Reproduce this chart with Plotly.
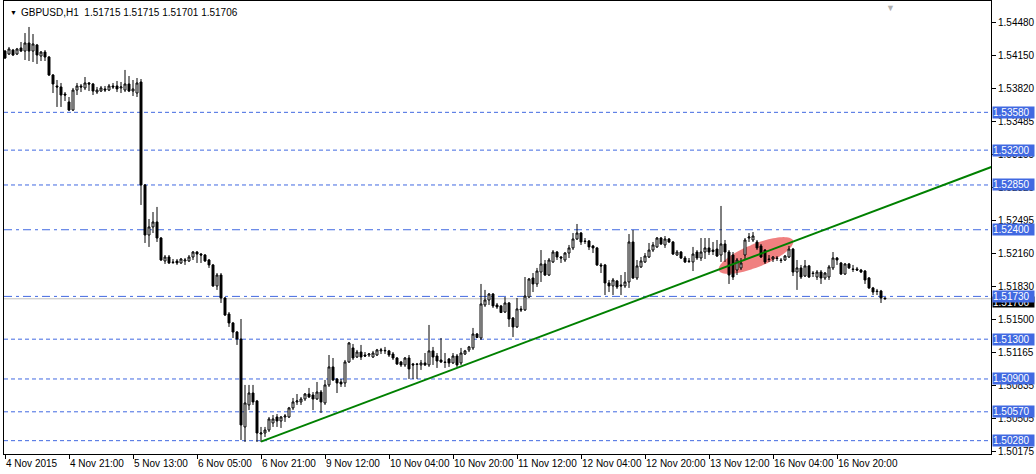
import numpy as np
import plotly.graph_objects as go

# ---------------- data (GBPUSD H1) ----------------
title_text = "GBPUSD,H1  1.51715 1.51715 1.51701 1.51706"

open_ = [
    1.54196, 1.54166, 1.54206, 1.54166, 1.54227, 1.54196, 1.54277, 1.54196, 1.54257, 1.54146,
    1.54186, 1.54136, 1.53955, 1.53845, 1.53835, 1.53764, 1.53684, 1.53603, 1.53804, 1.53845,
    1.53825, 1.53875, 1.53865, 1.53784, 1.53794, 1.53815, 1.53804, 1.53845, 1.53845, 1.53825,
    1.53804, 1.53865, 1.53794, 1.53774, 1.53885, 1.52850, 1.52347, 1.52428, 1.52478, 1.52317,
    1.52086, 1.52126, 1.52076, 1.52086, 1.52066, 1.52086, 1.52086, 1.52126, 1.52176, 1.52156,
    1.52146, 1.52096, 1.52046, 1.51835, 1.51945, 1.51714, 1.51553, 1.51463, 1.51372, 1.51302,
    1.50418, 1.50639, 1.50759, 1.50679, 1.50347, 1.50357, 1.50387, 1.50458, 1.50518, 1.50478,
    1.50518, 1.50518, 1.50609, 1.50669, 1.50669, 1.50699, 1.50749, 1.50739, 1.50699, 1.50769,
    1.50659, 1.50840, 1.51021, 1.50900, 1.50870, 1.50860, 1.51071, 1.51212, 1.51121, 1.51171,
    1.51141, 1.51141, 1.51121, 1.51141, 1.51182, 1.51182, 1.51182, 1.51151, 1.51111, 1.51071,
    1.51041, 1.51111, 1.51051, 1.51051, 1.51041, 1.51061, 1.51041, 1.51182, 1.51131, 1.51091,
    1.51071, 1.51101, 1.51061, 1.51131, 1.51061, 1.51151, 1.51192, 1.51212, 1.51352, 1.51312,
    1.51644, 1.51694, 1.51754, 1.51644, 1.51634, 1.51573, 1.51664, 1.51513, 1.51423, 1.51604,
    1.51594, 1.51724, 1.51915, 1.51855, 1.51975, 1.52056, 1.51945, 1.52076, 1.52176, 1.52126,
    1.52096, 1.52166, 1.52217, 1.52307, 1.52367, 1.52287, 1.52287, 1.52237, 1.52217, 1.52046,
    1.52046, 1.51865, 1.51835, 1.51885, 1.51845, 1.51835, 1.51875, 1.52277, 1.51915, 1.52026,
    1.52076, 1.52126, 1.52196, 1.52227, 1.52317, 1.52247, 1.52307, 1.52277, 1.52146, 1.52176,
    1.52116, 1.52086, 1.52076, 1.52176, 1.52116, 1.52176, 1.52217, 1.52196, 1.52206, 1.52146,
    1.52257, 1.52176, 1.52146, 1.51995, 1.52016, 1.52146, 1.52317, 1.52297, 1.52277, 1.52237,
    1.52196, 1.52106, 1.52106, 1.52116, 1.52096, 1.52096, 1.52126, 1.52206, 1.51975, 1.52016,
    1.51935, 1.52036, 1.51965, 1.51925, 1.51975, 1.51915, 1.51925, 1.52016, 1.52116, 1.52066,
    1.51955, 1.52056, 1.52006, 1.52006, 1.51995, 1.51985, 1.51915, 1.51815, 1.51784, 1.51784,
    1.51715,
]
high = [
    1.54206, 1.54237, 1.54217, 1.54227, 1.54287, 1.54377, 1.54438, 1.54367, 1.54267, 1.54196,
    1.54206, 1.54146, 1.53965, 1.53905, 1.53875, 1.53784, 1.53734, 1.53825, 1.53875, 1.53865,
    1.53935, 1.53885, 1.53875, 1.53835, 1.53845, 1.53845, 1.53865, 1.53875, 1.53895, 1.53885,
    1.54006, 1.53945, 1.53905, 1.53925, 1.53915, 1.52860, 1.52508, 1.52578, 1.52629, 1.52327,
    1.52146, 1.52146, 1.52106, 1.52106, 1.52116, 1.52116, 1.52146, 1.52186, 1.52186, 1.52166,
    1.52156, 1.52106, 1.52056, 1.51965, 1.51965, 1.51724, 1.51573, 1.51473, 1.51382, 1.51503,
    1.50840, 1.50840, 1.50840, 1.50689, 1.50418, 1.50418, 1.50518, 1.50538, 1.50548, 1.50528,
    1.50548, 1.50619, 1.50709, 1.50749, 1.50719, 1.50759, 1.50810, 1.50769, 1.50870, 1.50789,
    1.50890, 1.51141, 1.51111, 1.50910, 1.50900, 1.51091, 1.51272, 1.51252, 1.51192, 1.51242,
    1.51171, 1.51161, 1.51182, 1.51202, 1.51212, 1.51222, 1.51192, 1.51171, 1.51121, 1.51081,
    1.51121, 1.51141, 1.51061, 1.51061, 1.51091, 1.51161, 1.51443, 1.51222, 1.51161, 1.51312,
    1.51161, 1.51111, 1.51161, 1.51151, 1.51212, 1.51192, 1.51232, 1.51413, 1.51362, 1.51855,
    1.51795, 1.51764, 1.51764, 1.51664, 1.51644, 1.51724, 1.51674, 1.51523, 1.51714, 1.51634,
    1.51925, 1.51915, 1.51965, 1.52016, 1.52196, 1.52096, 1.52116, 1.52196, 1.52186, 1.52136,
    1.52176, 1.52247, 1.52367, 1.52458, 1.52377, 1.52317, 1.52297, 1.52247, 1.52227, 1.52066,
    1.52056, 1.51895, 1.51915, 1.51895, 1.51945, 1.51975, 1.52357, 1.52398, 1.52096, 1.52126,
    1.52166, 1.52267, 1.52277, 1.52327, 1.52327, 1.52337, 1.52317, 1.52287, 1.52196, 1.52186,
    1.52136, 1.52116, 1.52227, 1.52196, 1.52317, 1.52317, 1.52317, 1.52277, 1.52297, 1.52639,
    1.52297, 1.52196, 1.52176, 1.52116, 1.52116, 1.52317, 1.52367, 1.52377, 1.52297, 1.52257,
    1.52206, 1.52146, 1.52136, 1.52136, 1.52116, 1.52146, 1.52237, 1.52217, 1.52096, 1.52046,
    1.52096, 1.52046, 1.51985, 1.51995, 1.51995, 1.51975, 1.52046, 1.52176, 1.52126, 1.52076,
    1.52066, 1.52066, 1.52046, 1.52026, 1.52006, 1.51995, 1.51925, 1.51825, 1.51805, 1.51795,
    1.51715,
]
low = [
    1.54116, 1.54156, 1.54146, 1.54156, 1.54186, 1.54106, 1.54096, 1.54086, 1.54066, 1.54096,
    1.54096, 1.53945, 1.53774, 1.53634, 1.53634, 1.53694, 1.53593, 1.53593, 1.53754, 1.53784,
    1.53804, 1.53794, 1.53754, 1.53764, 1.53784, 1.53784, 1.53794, 1.53815, 1.53784, 1.53774,
    1.53784, 1.53784, 1.53744, 1.53734, 1.52649, 1.52267, 1.52227, 1.52367, 1.52277, 1.52086,
    1.52056, 1.52056, 1.52056, 1.52046, 1.52056, 1.52046, 1.52076, 1.52096, 1.52066, 1.52066,
    1.52076, 1.52016, 1.51825, 1.51795, 1.51664, 1.51533, 1.51423, 1.51312, 1.51242, 1.50287,
    1.50267, 1.50588, 1.50639, 1.50267, 1.50267, 1.50317, 1.50367, 1.50418, 1.50418, 1.50408,
    1.50468, 1.50508, 1.50588, 1.50639, 1.50639, 1.50679, 1.50709, 1.50588, 1.50689, 1.50558,
    1.50639, 1.50820, 1.50880, 1.50759, 1.50820, 1.50820, 1.51061, 1.51091, 1.51111, 1.51091,
    1.51121, 1.51121, 1.51111, 1.51131, 1.51151, 1.51151, 1.51121, 1.51091, 1.51041, 1.51021,
    1.51021, 1.50900, 1.50900, 1.50900, 1.50991, 1.51031, 1.51021, 1.51041, 1.51011, 1.51061,
    1.51011, 1.51021, 1.51051, 1.51021, 1.51041, 1.51141, 1.51171, 1.51192, 1.51312, 1.51292,
    1.51624, 1.51644, 1.51614, 1.51604, 1.51563, 1.51563, 1.51423, 1.51322, 1.51413, 1.51573,
    1.51584, 1.51714, 1.51774, 1.51825, 1.51875, 1.51935, 1.51935, 1.52066, 1.52096, 1.52066,
    1.52076, 1.52116, 1.52196, 1.52297, 1.52247, 1.52257, 1.52196, 1.52166, 1.52036, 1.51965,
    1.51744, 1.51774, 1.51744, 1.51805, 1.51744, 1.51815, 1.51815, 1.51905, 1.51895, 1.52016,
    1.52066, 1.52116, 1.52176, 1.52217, 1.52247, 1.52217, 1.52267, 1.52146, 1.52136, 1.52106,
    1.52066, 1.52066, 1.51985, 1.52096, 1.52086, 1.52106, 1.52146, 1.52146, 1.52126, 1.52076,
    1.52076, 1.51855, 1.51895, 1.51945, 1.51995, 1.52096, 1.52277, 1.52277, 1.52196, 1.52116,
    1.52056, 1.52076, 1.52076, 1.52086, 1.52066, 1.52086, 1.52116, 1.51935, 1.51795, 1.51905,
    1.51925, 1.51915, 1.51925, 1.51895, 1.51855, 1.51895, 1.51895, 1.51995, 1.52046, 1.51945,
    1.51945, 1.52006, 1.51975, 1.51985, 1.51965, 1.51855, 1.51805, 1.51744, 1.51744, 1.51664,
    1.51701,
]
close = [
    1.54126, 1.54217, 1.54156, 1.54217, 1.54196, 1.54277, 1.54196, 1.54267, 1.54156, 1.54186,
    1.54136, 1.53955, 1.53865, 1.53835, 1.53754, 1.53754, 1.53603, 1.53804, 1.53845, 1.53835,
    1.53875, 1.53865, 1.53794, 1.53804, 1.53825, 1.53804, 1.53845, 1.53835, 1.53815, 1.53835,
    1.53865, 1.53794, 1.53815, 1.53875, 1.52850, 1.52347, 1.52428, 1.52478, 1.52317, 1.52096,
    1.52126, 1.52066, 1.52071, 1.52066, 1.52106, 1.52096, 1.52126, 1.52176, 1.52156, 1.52146,
    1.52086, 1.52046, 1.51835, 1.51945, 1.51714, 1.51543, 1.51463, 1.51372, 1.51302, 1.50438,
    1.50659, 1.50759, 1.50669, 1.50357, 1.50357, 1.50387, 1.50498, 1.50498, 1.50478, 1.50518,
    1.50528, 1.50609, 1.50669, 1.50679, 1.50699, 1.50749, 1.50719, 1.50699, 1.50769, 1.50669,
    1.50840, 1.51021, 1.50890, 1.50860, 1.50850, 1.51071, 1.51262, 1.51111, 1.51171, 1.51121,
    1.51131, 1.51151, 1.51161, 1.51192, 1.51192, 1.51187, 1.51141, 1.51111, 1.51051, 1.51041,
    1.51111, 1.51001, 1.51041, 1.51046, 1.51061, 1.51041, 1.51182, 1.51121, 1.51081, 1.51071,
    1.51066, 1.51061, 1.51131, 1.51041, 1.51161, 1.51182, 1.51222, 1.51352, 1.51317, 1.51654,
    1.51694, 1.51754, 1.51634, 1.51624, 1.51568, 1.51664, 1.51503, 1.51423, 1.51604, 1.51594,
    1.51734, 1.51905, 1.51855, 1.51985, 1.52056, 1.51945, 1.52096, 1.52176, 1.52126, 1.52116,
    1.52166, 1.52217, 1.52307, 1.52367, 1.52277, 1.52282, 1.52227, 1.52217, 1.52046, 1.52036,
    1.51865, 1.51835, 1.51895, 1.51825, 1.51835, 1.51875, 1.52277, 1.51915, 1.52036, 1.52086,
    1.52136, 1.52196, 1.52247, 1.52317, 1.52257, 1.52307, 1.52277, 1.52156, 1.52176, 1.52116,
    1.52076, 1.52081, 1.52156, 1.52116, 1.52176, 1.52217, 1.52176, 1.52181, 1.52136, 1.52257,
    1.52176, 1.51945, 1.51925, 1.52096, 1.52066, 1.52297, 1.52327, 1.52337, 1.52217, 1.52126,
    1.52076, 1.52101, 1.52126, 1.52111, 1.52091, 1.52136, 1.52206, 1.51975, 1.52016, 1.51925,
    1.52036, 1.51925, 1.51960, 1.51975, 1.51915, 1.51965, 1.52026, 1.52116, 1.52096, 1.51955,
    1.52056, 1.52016, 1.52001, 1.51995, 1.51975, 1.51895, 1.51815, 1.51774, 1.51779, 1.51714,
    1.51706,
]
bar_index = list(range(len(open_)))

xtick_bars = [0, 16, 32, 48, 64, 80, 96, 112, 128, 144, 160, 176, 192, 208]
xtick_labels = ["4 Nov 2015", "4 Nov 21:00", "5 Nov 13:00", "6 Nov 05:00", "6 Nov 21:00",
                "9 Nov 12:00", "10 Nov 04:00", "10 Nov 20:00", "11 Nov 12:00", "12 Nov 04:00",
                "12 Nov 20:00", "13 Nov 12:00", "16 Nov 04:00", "16 Nov 20:00"]

ytick_values = [1.54480, 1.54150, 1.53820, 1.53485, 1.53155, 1.52825, 1.52495,
                1.52160, 1.51830, 1.51500, 1.51165, 1.50835, 1.50505, 1.50175]

dashed_levels = [1.53580, 1.53200, 1.52850, 1.51300, 1.50900, 1.50570, 1.50280]
dashdot_levels = [1.52400, 1.51730]
bid_price = 1.51706

trend_bars = [64, 250]
trend_prices = [1.50270, 1.53082]

ellipse_center_bar = 187.75
ellipse_center_price = 1.52141

# ---------------- layout geometry ----------------
W, H = 1036, 474
ML, MR, MT, MB = 4, 45, 1, 20
x_range = [-0.25, 246.5]
y_range = [1.50146, 1.54699]
FONT = "Liberation Sans, Arial, sans-serif"
BLUE = "#4169E1"

fig = go.Figure()

fig.add_trace(go.Candlestick(
    x=bar_index, open=open_, high=high, low=low, close=close,
    increasing=dict(line=dict(color="black", width=1), fillcolor="white"),
    decreasing=dict(line=dict(color="black", width=1), fillcolor="black"),
    whiskerwidth=0, showlegend=False, hoverinfo="skip",
))

fig.add_trace(go.Scatter(
    x=trend_bars, y=trend_prices, mode="lines",
    line=dict(color="#008000", width=2), showlegend=False, hoverinfo="skip",
))

# horizontal level lines
shapes = []
for lv in dashed_levels:
    shapes.append(dict(type="line", xref="paper", x0=0, x1=1, yref="y", y0=lv, y1=lv,
                       line=dict(color=BLUE, width=1, dash="4px,3px"), layer="below"))
for lv in dashdot_levels:
    shapes.append(dict(type="line", xref="paper", x0=0, x1=1, yref="y", y0=lv, y1=lv,
                       line=dict(color=BLUE, width=1, dash="8px,4px,3px,4px"), layer="below"))
shapes.append(dict(type="line", xref="paper", x0=0, x1=1, yref="y", y0=bid_price, y1=bid_price,
                   line=dict(color="#C0C0C0", width=1), layer="below"))

# ellipse highlight (rotated), built in screen-pixel space
px_per_bar = (W - ML - MR) / (x_range[1] - x_range[0])
px_per_price = (H - MT - MB) / (y_range[1] - y_range[0])
t = np.linspace(0, 2 * np.pi, 91)
a_px, b_px, th = 40.0, 11.5, np.radians(22.0)
dx = a_px * np.cos(t) * np.cos(th) - b_px * np.sin(t) * np.sin(th)
dy = a_px * np.cos(t) * np.sin(th) + b_px * np.sin(t) * np.cos(th)
ex = ellipse_center_bar + dx / px_per_bar
ey = ellipse_center_price + dy / px_per_price
path = "M " + " L ".join(f"{x:.4f},{y:.6f}" for x, y in zip(ex, ey)) + " Z"
shapes.append(dict(type="path", xref="x", yref="y", path=path, fillcolor="#F08080",
                   line=dict(width=0), layer="below"))

fig.update_layout(shapes=shapes)

# price labels on the right axis
ann = []
ann.append(dict(x=1, xref="paper", y=bid_price, yref="y", xanchor="left", yanchor="middle",
                xshift=1, yshift=-3, text=f"{bid_price:.5f}", showarrow=False, bgcolor="black",
                font=dict(color="white", size=10, family=FONT), width=41, height=10,
                align="left", borderpad=0))
for lv in dashed_levels + dashdot_levels:
    ann.append(dict(x=1, xref="paper", y=lv, yref="y", xanchor="left", yanchor="middle",
                    xshift=1, text=f"{lv:.5f}", showarrow=False, bgcolor=BLUE,
                    font=dict(color="white", size=10, family=FONT), width=41, height=11,
                    align="left", borderpad=0))
# title and chart-shift marker
ann.append(dict(x=0, xref="paper", y=1, yref="paper", xanchor="left", yanchor="top",
                xshift=4, yshift=-6, text="▼", showarrow=False,
                font=dict(color="black", size=7, family=FONT)))
ann.append(dict(x=0, xref="paper", y=1, yref="paper", xanchor="left", yanchor="top",
                xshift=15, yshift=-4, text=title_text, showarrow=False,
                font=dict(color="black", size=10, family=FONT)))
ann.append(dict(x=0.8977, xref="paper", y=1, yref="paper", xanchor="center", yanchor="top",
                yshift=0, text="▼", showarrow=False,
                font=dict(color="#B0B0B0", size=9, family=FONT)))
fig.update_layout(annotations=ann)

fig.update_layout(
    width=W, height=H, autosize=False,
    margin=dict(l=ML, r=MR, t=MT, b=MB, pad=0),
    paper_bgcolor="white", plot_bgcolor="white",
    font=dict(family=FONT, size=10, color="black"),
    showlegend=False,
    xaxis=dict(range=x_range, rangeslider=dict(visible=False), showgrid=False, zeroline=False,
               showline=True, linecolor="black", linewidth=1, mirror=True,
               ticks="outside", ticklen=4, tickcolor="black", tickangle=0,
               tickvals=xtick_bars, ticktext=xtick_labels,
               ticklabelposition="outside right", tickfont=dict(size=10, family=FONT)),
    yaxis=dict(range=y_range, side="right", showgrid=False, zeroline=False,
               showline=True, linecolor="black", linewidth=1, mirror=True,
               ticks="outside", ticklen=4, tickcolor="black",
               tickvals=ytick_values, ticktext=[f"{v:.5f}" for v in ytick_values],
               tickfont=dict(size=10, family=FONT)),
)

fig.write_html("out.html", config={"displayModeBar": False},
               post_script="document.body.style.margin='0px';document.body.style.overflow='hidden';")
